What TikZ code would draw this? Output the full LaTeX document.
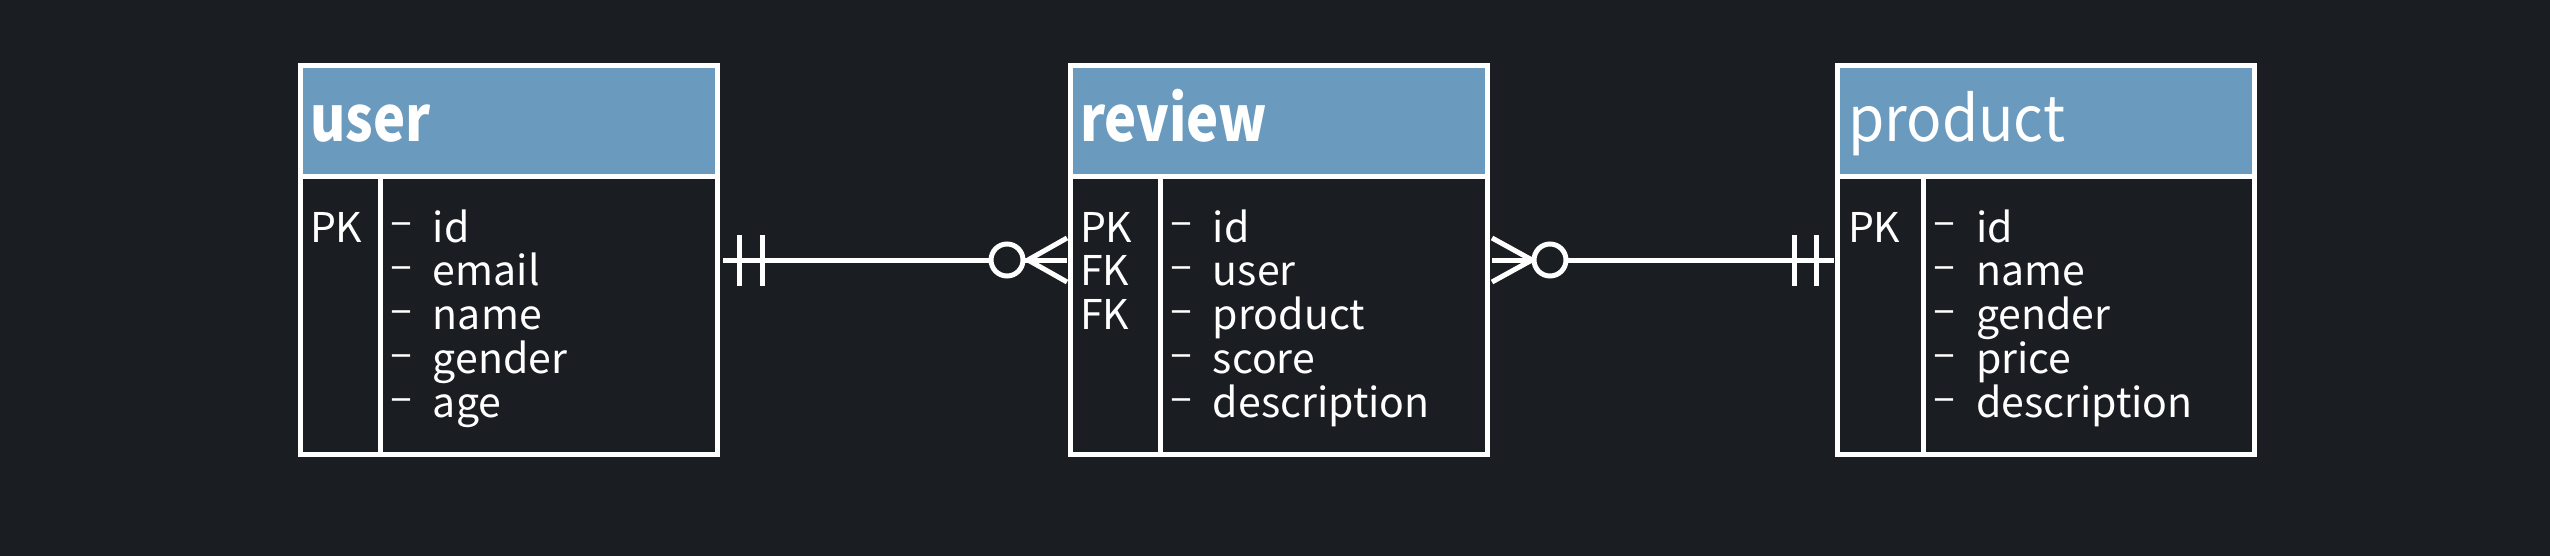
\documentclass[tikz,border=0pt]{standalone}
\usepackage{fontspec}
\setmainfont{Noto Sans CJK KR}
\newfontfamily\titleboldfont[FakeStretch=0.86]{Noto Sans CJK KR}
\newfontfamily\titlelightfont[FakeStretch=0.93]{Noto Sans CJK KR}
\usetikzlibrary{calc}
\definecolor{bg}{HTML}{1A1D22}
\definecolor{hdr}{HTML}{6A9ABE}
\tikzset{
  tablebox/.style={draw=white, line width=5pt, inner sep=0pt, outer sep=0pt, anchor=north west, minimum width=417pt, minimum height=388pt},
  headbox/.style={fill=hdr, inner sep=0pt, outer sep=0pt, anchor=north west, minimum width=417pt, minimum height=111pt},
  rule/.style={draw=white, line width=5pt},
  titletext/.style={text=white, inner sep=0pt, outer sep=0pt, anchor=base west, font=\titleboldfont\fontsize{63}{70}\selectfont\bfseries},
  titlelight/.style={titletext, font=\titlelightfont\fontsize{63}{70}\selectfont},
  fieldtext/.style={text=white, inner sep=0pt, outer sep=0pt, anchor=base west, font=\fontsize{41}{44}\selectfont},
  conn/.style={draw=white, line width=5pt},
}
\newcommand\dashitem[1]{\raisebox{6pt}{–}\hspace{21pt}#1}
\begin{document}
\begin{tikzpicture}[x=1pt,y=-1pt]
\fill[bg] (0,0) rectangle (2550,556);
\useasboundingbox (0,0) rectangle (2550,556);

% ---- user ----
\node[headbox] (userhead) at (300,66) {};
\node[tablebox] (user) at (300,66) {};
\draw[rule] (userhead.south west) -- (userhead.south east);
\draw[rule] (userhead.south west -| 380,0) -- (user.south west -| 380,0);
\node[titletext] (usertitle) at (310,142) {user};
\node[fieldtext] (userk1) at (310,242) {PK};
\foreach \t [count=\i] in {id,email,name,gender,age}
  \node[fieldtext] (userf\i) at (390,{242+43.75*(\i-1)}) {\dashitem{\t}};

% ---- review ----
\node[headbox] (reviewhead) at (1070,66) {};
\node[tablebox] (review) at (1070,66) {};
\draw[rule] (reviewhead.south west) -- (reviewhead.south east);
\draw[rule] (reviewhead.south west -| 1160,0) -- (review.south west -| 1160,0);
\node[titletext] (reviewtitle) at (1080,142) {review};
\foreach \t [count=\i] in {PK,FK,FK}
  \node[fieldtext] (reviewk\i) at (1080,{242+43.75*(\i-1)}) {\t};
\foreach \t [count=\i] in {id,user,product,score,description}
  \node[fieldtext] (reviewf\i) at (1170,{242+43.75*(\i-1)}) {\dashitem{\t}};

% ---- product ----
\node[headbox] (producthead) at (1837,66) {};
\node[tablebox] (product) at (1837,66) {};
\draw[rule] (producthead.south west) -- (producthead.south east);
\draw[rule] (producthead.south west -| 1923,0) -- (product.south west -| 1923,0);
\node[titlelight] (producttitle) at (1848,142) {product};
\node[fieldtext] (productk1) at (1848,242) {PK};
\foreach \t [count=\i] in {id,name,gender,price,description}
  \node[fieldtext] (productf\i) at (1933,{242+43.75*(\i-1)}) {\dashitem{\t}};

% ---- connectors ----
\coordinate (lvl) at (0,260);
\coordinate (uA) at (user.east |- lvl);
\coordinate (rA) at (review.west |- lvl);
\coordinate (rB) at (review.east |- lvl);
\coordinate (pA) at (product.west |- lvl);

% user -- review : one and only one  to  zero or many
\draw[conn] ($(uA)+(6,0)$) -- ($(rA)+(-3,0)$);
\draw[conn] ($(uA)+(22,-25)$) -- ($(uA)+(22,26)$);
\draw[conn] ($(uA)+(45,-25)$) -- ($(uA)+(45,26)$);
\draw[conn] ($(rA)+(-42,0)$) -- ($(rA)+(-3,-22)$);
\draw[conn] ($(rA)+(-42,0)$) -- ($(rA)+(-3,22)$);
\draw[conn, fill=bg] ($(rA)+(-63,0)$) circle (16pt);

% review -- product : zero or many  to  one and only one
\draw[conn] ($(rB)+(5,0)$) -- ($(pA)+(-3,0)$);
\draw[conn] ($(pA)+(-21,-25)$) -- ($(pA)+(-21,26)$);
\draw[conn] ($(pA)+(-43,-25)$) -- ($(pA)+(-43,26)$);
\draw[conn] ($(rB)+(45,0)$) -- ($(rB)+(5,-22)$);
\draw[conn] ($(rB)+(45,0)$) -- ($(rB)+(5,22)$);
\draw[conn, fill=bg] ($(rB)+(63,0)$) circle (16pt);
\end{tikzpicture}
\end{document}
